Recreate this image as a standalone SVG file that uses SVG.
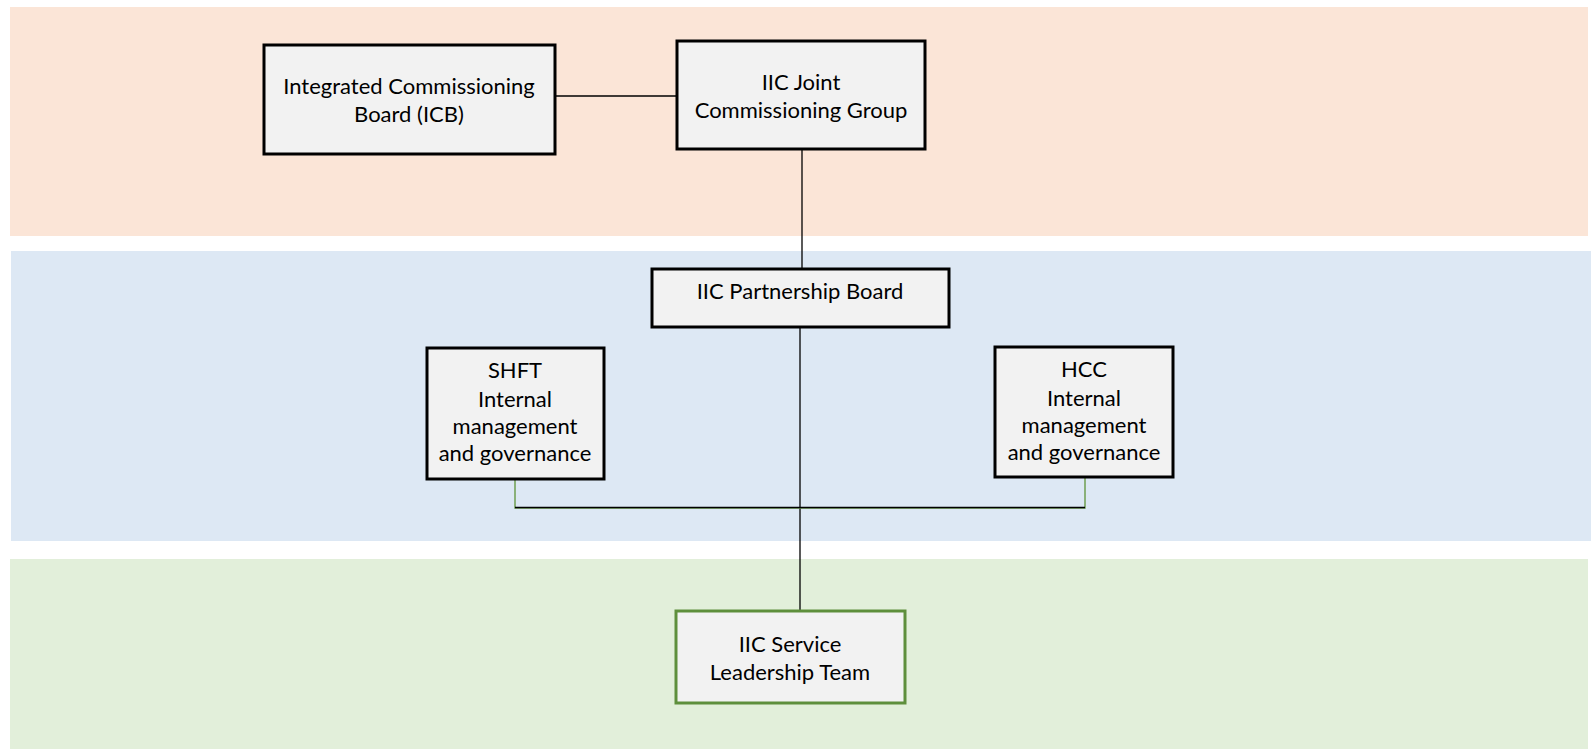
<svg xmlns="http://www.w3.org/2000/svg" width="1591" height="749" viewBox="0 0 1591 749">
<style>
.box{fill:#f2f2f2;stroke:#000;stroke-width:3}
.gbox{fill:#f2f2f2;stroke:#5e8f3c;stroke-width:3}
.t{font-family:Lato,"Liberation Sans",sans-serif;font-size:22px;fill:#000;text-anchor:middle}
.c{stroke:#000;stroke-width:1.3;fill:none}
.cg{stroke:#6f9f50;stroke-width:1.5;fill:none}
</style>
<rect width="1591" height="749" fill="#fff"/>
<rect x="10" y="7" width="1578" height="229" fill="#fbe5d7"/>
<rect x="11" y="251" width="1580" height="290" fill="#dde8f4"/>
<rect x="10" y="559" width="1578" height="190" fill="#e2efda"/>
<g id="connectors">
<line class="c" x1="555" y1="96" x2="677" y2="96"/>
<line class="c" x1="802" y1="149" x2="802" y2="269"/>
<line class="c" x1="800" y1="327" x2="800" y2="611"/>
<polyline class="cg" points="515,479 515,508 1085,508 1085,477"/>
<line class="c" x1="515" y1="507.5" x2="1085" y2="507.5"/>
</g>
<g id="icb">
<rect class="box" x="264" y="45" width="291" height="109"/>
<text class="t" x="409" y="94">Integrated Commissioning</text>
<text class="t" x="409" y="122">Board (ICB)</text>
</g>
<g id="jcg">
<rect class="box" x="677" y="41" width="248" height="108"/>
<text class="t" x="801" y="90">IIC Joint</text>
<text class="t" x="801" y="118">Commissioning Group</text>
</g>
<g id="partnership">
<rect class="box" x="652" y="269" width="297" height="58"/>
<text class="t" x="800" y="299">IIC Partnership Board</text>
</g>
<g id="shft">
<rect class="box" x="427" y="348" width="177" height="131"/>
<text class="t" x="515" y="378">SHFT</text>
<text class="t" x="515" y="407">Internal</text>
<text class="t" x="515" y="434">management</text>
<text class="t" x="515" y="461">and governance</text>
</g>
<g id="hcc">
<rect class="box" x="995" y="347" width="178" height="130"/>
<text class="t" x="1084" y="377">HCC</text>
<text class="t" x="1084" y="406">Internal</text>
<text class="t" x="1084" y="433">management</text>
<text class="t" x="1084" y="460">and governance</text>
</g>
<g id="slt">
<rect class="gbox" x="676" y="611" width="229" height="92"/>
<text class="t" x="790" y="652">IIC Service</text>
<text class="t" x="790" y="680">Leadership Team</text>
</g>
</svg>
